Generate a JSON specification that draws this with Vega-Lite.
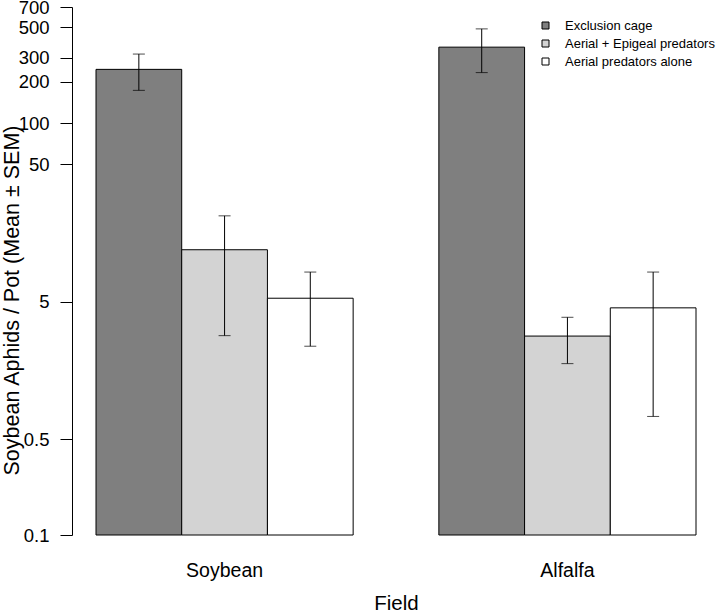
{
  "$schema": "https://vega.github.io/schema/vega-lite/v6.json",
  "width": 648,
  "height": 528,
  "autosize": {"type": "none"},
  "padding": {"left": 72, "top": 7, "right": 0, "bottom": 77},
  "config": {
    "view": {"stroke": null},
    "font": "Liberation Sans",
    "axis": {"labelColor": "black", "titleColor": "black", "titleFontWeight": "normal", "labelFont": "Liberation Sans", "titleFont": "Liberation Sans"},
    "legend": {"labelFont": "Liberation Sans"}
  },
  "data": {
    "values": [
      {"field": "Soybean", "treatment": "Exclusion cage", "mean": 246, "lo": 173, "hi": 318},
      {"field": "Soybean", "treatment": "Aerial + Epigeal predators", "mean": 11.95, "lo": 2.83, "hi": 21.1},
      {"field": "Soybean", "treatment": "Aerial predators alone", "mean": 5.3, "lo": 2.37, "hi": 8.22},
      {"field": "Alfalfa", "treatment": "Exclusion cage", "mean": 357, "lo": 233, "hi": 485},
      {"field": "Alfalfa", "treatment": "Aerial + Epigeal predators", "mean": 2.81, "lo": 1.77, "hi": 3.85},
      {"field": "Alfalfa", "treatment": "Aerial predators alone", "mean": 4.51, "lo": 0.73, "hi": 8.22}
    ]
  },
  "encoding": {
    "x": {
      "field": "field",
      "type": "nominal",
      "sort": ["Soybean", "Alfalfa"],
      "title": "Field",
      "scale": {"paddingInner": 0.25, "paddingOuter": 0.07},
      "axis": {
        "labelAngle": 0,
        "domain": false,
        "ticks": false,
        "labelPadding": 26,
        "labelFontSize": 19.5,
        "titleFontSize": 20.5,
        "titleY": 58,
        "titleBaseline": "top"
      }
    },
    "xOffset": {
      "field": "treatment",
      "type": "nominal",
      "sort": ["Exclusion cage", "Aerial + Epigeal predators", "Aerial predators alone"],
      "scale": {"paddingInner": 0, "paddingOuter": 0}
    }
  },
  "layer": [
    {
      "mark": {"type": "bar", "stroke": "black", "strokeWidth": 1},
      "encoding": {
        "y": {
          "field": "mean",
          "type": "quantitative",
          "scale": {"type": "log", "domain": [0.1, 700], "nice": false},
          "title": "Soybean Aphids / Pot (Mean ± SEM)",
          "axis": {
            "values": [0.1, 0.5, 5, 50, 100, 200, 300, 500, 700],
            "format": "~g",
            "grid": false,
            "tickSize": 12,
            "labelPadding": 11,
            "labelFontSize": 18.5,
            "labelOverlap": false,
            "domainColor": "black",
            "tickColor": "black",
            "titleFontSize": 21.5,
            "titleX": -60,
            "titleY": 293,
            "titleAngle": 270,
            "titleAlign": "center",
            "titleBaseline": "middle"
          }
        },
        "y2": {"datum": 0.1},
        "fill": {
          "field": "treatment",
          "type": "nominal",
          "scale": {
            "domain": ["Exclusion cage", "Aerial + Epigeal predators", "Aerial predators alone"],
            "range": ["#7f7f7f", "#d3d3d3", "#ffffff"]
          },
          "legend": {
            "title": null,
            "orient": "none",
            "legendX": 467,
            "legendY": 12,
            "padding": 0,
            "symbolType": "square",
            "symbolSize": 49,
            "symbolStrokeColor": "black",
            "symbolStrokeWidth": 1,
            "labelFontSize": 13,
            "labelOffset": 13,
            "rowPadding": 4,
            "labelColor": "black"
          }
        }
      }
    },
    {
      "mark": {"type": "rule", "color": "black", "strokeWidth": 1},
      "encoding": {
        "y": {"field": "lo", "type": "quantitative"},
        "y2": {"field": "hi"}
      }
    },
    {
      "mark": {"type": "tick", "color": "black", "size": 12, "thickness": 1},
      "encoding": {"y": {"field": "lo", "type": "quantitative"}}
    },
    {
      "mark": {"type": "tick", "color": "black", "size": 12, "thickness": 1},
      "encoding": {"y": {"field": "hi", "type": "quantitative"}}
    }
  ]
}
